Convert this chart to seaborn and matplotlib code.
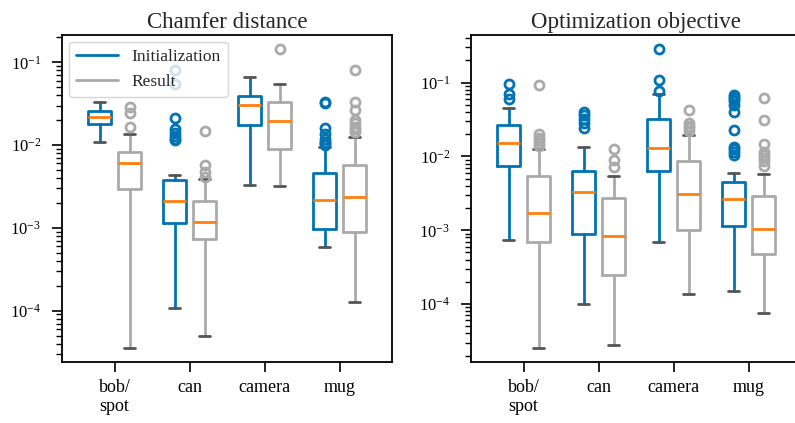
import matplotlib
matplotlib.use("Agg")
import matplotlib.pyplot as plt
from matplotlib.lines import Line2D
import numpy as np
import seaborn as sns

# ---- data -----------------------------------------------------------------
categories = ["bob/\nspot", "can", "camera", "mug"]
series = ["Initialization", "Result"]

# box summaries per object: [lower whisker, q1, median, q3, upper whisker]
chamfer_init_box = [
    [0.0108, 0.0178, 0.0218, 0.0258, 0.0328],
    [1.08e-4, 0.00116, 0.00209, 0.00379, 0.00436],
    [0.0033, 0.0175, 0.0303, 0.0388, 0.0664],
    [5.83e-4, 0.00098, 0.00217, 0.00456, 0.0094],
]
chamfer_init_fliers = [
    [],
    [0.0807, 0.0553, 0.0214, 0.0155, 0.014, 0.013, 0.012, 0.0115],
    [],
    [0.0334, 0.032, 0.016, 0.0135, 0.012, 0.011, 0.0105, 0.0099],
]
chamfer_result_box = [
    [3.5e-5, 0.00295, 0.00603, 0.00818, 0.0135],
    [4.94e-5, 7.35e-4, 0.00118, 0.00213, 0.0039],
    [0.00318, 0.00897, 0.0195, 0.0332, 0.0552],
    [1.26e-4, 0.0009, 0.00236, 0.0057, 0.0126],
]
chamfer_result_fliers = [
    [0.0291, 0.0242, 0.0167],
    [0.0148, 0.00575, 0.00479, 0.00416],
    [0.145],
    [0.0807, 0.0334, 0.0265, 0.0201, 0.0185, 0.0165, 0.0155, 0.0145],
]

objective_init_box = [
    [7.46e-4, 0.00736, 0.0151, 0.0265, 0.0458],
    [9.93e-5, 8.83e-4, 0.00334, 0.0063, 0.01346],
    [6.87e-4, 0.00643, 0.01315, 0.0325, 0.071],
    [1.51e-4, 0.00114, 0.00263, 0.0045, 0.006],
]
objective_init_fliers = [
    [0.095, 0.0697, 0.0596],
    [0.0405, 0.036, 0.032, 0.028, 0.0245],
    [0.284, 0.109, 0.0772],
    [0.068, 0.064, 0.06, 0.056, 0.05, 0.0405, 0.0229,
     0.0136, 0.0125, 0.0115, 0.0105],
]
objective_result_box = [
    [2.54e-5, 6.87e-4, 0.0017, 0.0055, 0.0125],
    [2.79e-5, 2.45e-4, 8.38e-4, 0.00271, 0.0054],
    [1.37e-4, 0.00101, 0.00308, 0.00877, 0.0198],
    [7.59e-5, 4.82e-4, 0.00103, 0.00292, 0.00573],
]
objective_result_fliers = [
    [0.092, 0.0202, 0.018, 0.0165, 0.015, 0.014],
    [0.0125, 0.00897, 0.00728],
    [0.0427, 0.0282, 0.026, 0.024, 0.022],
    [0.0627, 0.0313, 0.0146, 0.0116, 0.0104, 0.0095, 0.0086, 0.0075],
]

# ---- style ----------------------------------------------------------------
sns.set_theme(style="ticks")
plt.rcParams["font.family"] = ["Liberation Serif", "DejaVu Serif"]
plt.rcParams["mathtext.fontset"] = "stix"
plt.rcParams.update({
    "axes.edgecolor": "black",
    "axes.linewidth": 1.3,
    "xtick.color": "black",
    "ytick.color": "black",
    "xtick.major.size": 7,
    "ytick.major.size": 7,
    "ytick.minor.size": 4.5,
    "xtick.major.width": 1.2,
    "ytick.major.width": 1.2,
    "ytick.minor.width": 1.0,
    "xtick.major.pad": 5,
    "ytick.major.pad": 8,
    "xtick.labelsize": 13,
    "ytick.labelsize": 12,
})

palette = sns.color_palette("colorblind")
init_colour = palette[0]
result_colour = "#aaaaaa"
median_colour = "#ff7f0e"
cap_colour = "#555555"


def draw_panel(ax, title, init_box, init_fl, res_box, res_fl, ylim):
    pos = np.arange(1, len(categories) + 1)
    groups = [(init_box, init_fl, -0.2, init_colour),
              (res_box, res_fl, 0.2, result_colour)]
    for boxes, fliers, offset, colour in groups:
        stats = [dict(whislo=b[0], q1=b[1], med=b[2], q3=b[3], whishi=b[4],
                      fliers=f) for b, f in zip(boxes, fliers)]
        ax.bxp(stats, positions=pos + offset, widths=0.3, manage_ticks=False,
               boxprops=dict(color=colour, lw=2),
               whiskerprops=dict(color=colour, lw=2),
               capprops=dict(color=cap_colour, lw=2),
               medianprops=dict(color=median_colour, lw=2),
               flierprops=dict(marker="o", markerfacecolor="none",
                               markeredgecolor=colour, markersize=6.5,
                               markeredgewidth=2))
    ax.set_yscale("log")
    ax.set_ylim(*ylim)
    ax.set_xlim(0.3, 4.7)
    ax.set_xticks(pos, categories)
    ax.set_title(title, fontsize=16.5, pad=5)


fig = plt.figure(figsize=(7.95, 4.23), dpi=100)
ax1 = fig.add_axes([62 / 795, 61 / 423, 330 / 795, 327 / 423])
ax2 = fig.add_axes([471 / 795, 61 / 423, 330 / 795, 327 / 423])

draw_panel(ax1, "Chamfer distance", chamfer_init_box, chamfer_init_fliers,
           chamfer_result_box, chamfer_result_fliers, (2.40e-5, 0.214))
draw_panel(ax2, "Optimization objective", objective_init_box,
           objective_init_fliers, objective_result_box,
           objective_result_fliers, (1.64e-5, 0.443))

handles = [Line2D([], [], color=init_colour, lw=2),
           Line2D([], [], color=result_colour, lw=2)]
ax1.legend(handles, series, loc="upper left", fontsize=12.5, framealpha=0.8,
           edgecolor="#cccccc", fancybox=True, borderpad=0.4,
           handlelength=2.4, handletextpad=0.8, labelspacing=0.5,
           borderaxespad=0.4)

fig.savefig("out.png", dpi=100)
